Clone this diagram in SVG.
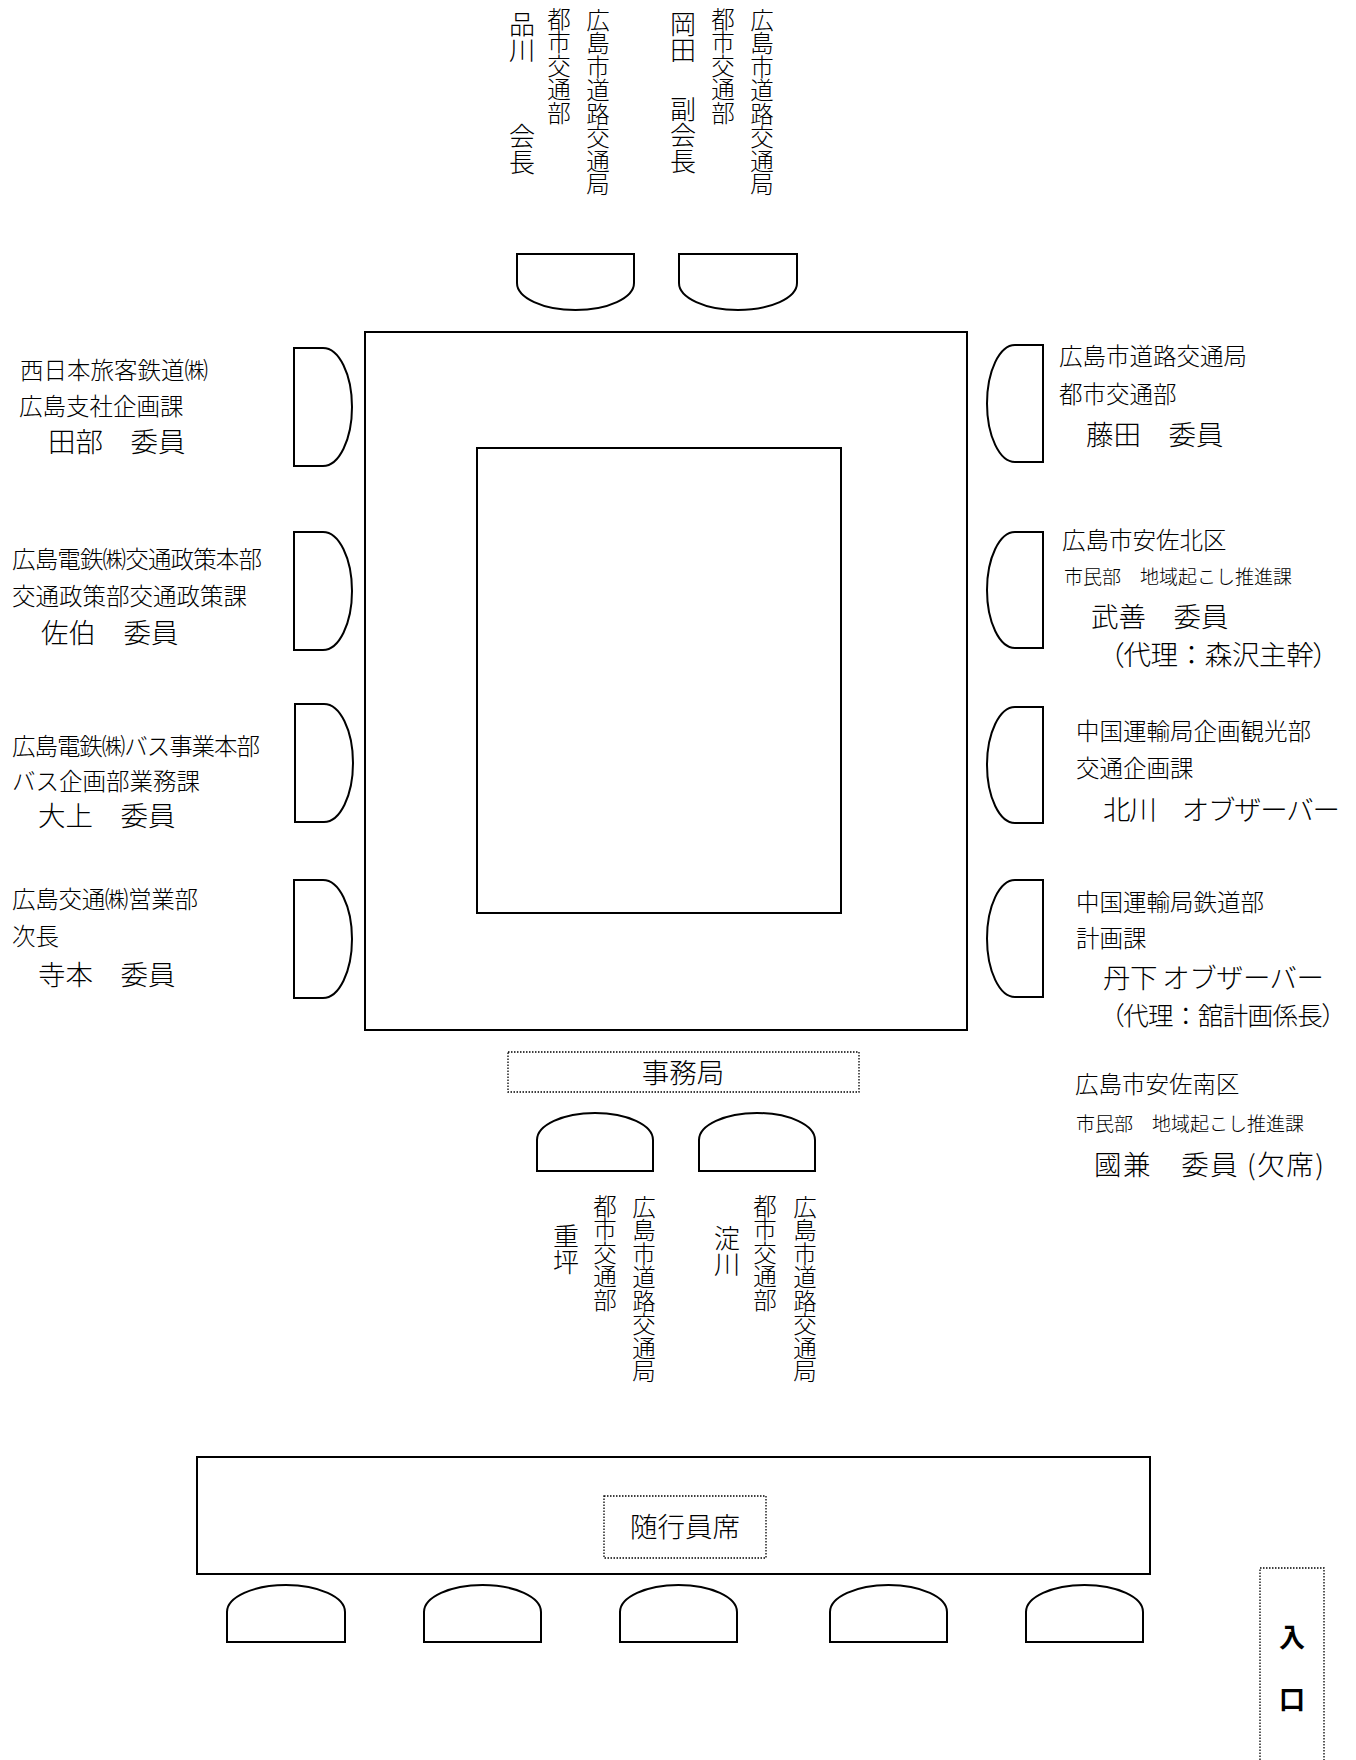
<svg xmlns="http://www.w3.org/2000/svg" width="1356" height="1760" viewBox="0 0 1356 1760">
<style>
.t{font-family:"Noto Sans CJK JP","Noto Sans CJK SC",sans-serif;fill:#000;font-weight:300}
.d{font-size:23.5px}
.s{font-size:19px}
.n{font-size:27.5px}
.nv{font-size:26px}
.pp{font-feature-settings:"palt"}
.v{writing-mode:vertical-rl}
.ln{fill:#fff;stroke:#000;stroke-width:2}
.dot{fill:none;stroke:#000;stroke-width:1.3;stroke-dasharray:1.5 1.5}
.c{text-anchor:middle}
</style>
<rect width="1356" height="1760" fill="#fff"/>
<g id="table">
<rect class="ln" x="365" y="332" width="602" height="698"/>
<rect class="ln" x="477" y="448" width="364" height="465"/>
</g>
<g id="chairs-top">
<path class="ln" d="M517,254 H634 V283 A58.5,27 0 0 1 517,283 Z"/>
<path class="ln" d="M679,254 H797 V283 A59,27 0 0 1 679,283 Z"/>
</g>
<g id="chairs-left">
<path class="ln" d="M294,348 H323 A29,59 0 0 1 323,466 H294 Z"/>
<path class="ln" d="M294,532 H323 A29,59 0 0 1 323,650 H294 Z"/>
<path class="ln" d="M295,704 H324 A29,59 0 0 1 324,822 H295 Z"/>
<path class="ln" d="M294,880 H323 A29,59 0 0 1 323,998 H294 Z"/>
</g>
<g id="chairs-right">
<path class="ln" d="M1043,345 H1015 A28,58.5 0 0 0 1015,462 H1043 Z"/>
<path class="ln" d="M1043,532 H1015 A28,58 0 0 0 1015,648 H1043 Z"/>
<path class="ln" d="M1043,707 H1015 A28,58 0 0 0 1015,823 H1043 Z"/>
<path class="ln" d="M1043,880 H1015 A28,58.5 0 0 0 1015,997 H1043 Z"/>
</g>
<g id="chairs-secretariat">
<path class="ln" d="M537,1171 V1140 A58,27 0 0 1 653,1140 V1171 Z"/>
<path class="ln" d="M699,1171 V1140 A58,27 0 0 1 815,1140 V1171 Z"/>
</g>
<g id="chairs-attendants">
<path class="ln" d="M227,1642 V1612 A59,27 0 0 1 345,1612 V1642 Z"/>
<path class="ln" d="M424,1642 V1612 A58.5,27 0 0 1 541,1612 V1642 Z"/>
<path class="ln" d="M620,1642 V1612 A58.5,27 0 0 1 737,1612 V1642 Z"/>
<path class="ln" d="M830,1642 V1612 A58.5,27 0 0 1 947,1612 V1642 Z"/>
<path class="ln" d="M1026,1642 V1612 A58.5,27 0 0 1 1143,1612 V1642 Z"/>
</g>
<g id="chair-shinagawa">
<text class="t d v" x="598" y="8">広島市道路交通局</text>
<text class="t d v" x="559" y="7">都市交通部</text>
<text class="t nv v" x="522" y="11">品川</text>
<text class="t nv v" x="522" y="123">会長</text>
</g>
<g id="chair-okada">
<text class="t d v" x="762" y="8">広島市道路交通局</text>
<text class="t d v" x="723" y="7">都市交通部</text>
<text class="t nv v" x="683" y="11">岡田</text>
<text class="t nv v" x="683" y="96">副会長</text>
</g>
<g id="seat-tabe">
<text class="t d" x="20" y="379">西日本旅客鉄道㈱</text>
<text class="t d" x="19" y="415">広島支社企画課</text>
<text class="t n" x="48" y="452">田部　委員</text>
</g>
<g id="seat-saeki">
<text class="t d" x="12" y="568" textLength="250">広島電鉄㈱交通政策本部</text>
<text class="t d" x="12" y="605">交通政策部交通政策課</text>
<text class="t n" x="41" y="643">佐伯　委員</text>
</g>
<g id="seat-oue">
<text class="t d" x="12" y="755" textLength="248">広島電鉄㈱バス事業本部</text>
<text class="t d" x="12" y="790">バス企画部業務課</text>
<text class="t n" x="38" y="826">大上　委員</text>
</g>
<g id="seat-teramoto">
<text class="t d" x="12" y="908" textLength="186">広島交通㈱営業部</text>
<text class="t d" x="12" y="945">次長</text>
<text class="t n" x="38" y="985">寺本　委員</text>
</g>
<g id="seat-fujita">
<text class="t d" x="1059" y="365">広島市道路交通局</text>
<text class="t d" x="1059" y="403">都市交通部</text>
<text class="t n" x="1086" y="445">藤田　委員</text>
</g>
<g id="seat-takeyoshi">
<text class="t d" x="1062" y="549">広島市安佐北区</text>
<text class="t s" x="1064" y="584">市民部　地域起こし推進課</text>
<text class="t n" x="1091" y="627">武善　委員</text>
<text class="t n" x="1110" y="665" textLength="217"><tspan class="pp">（</tspan>代理：森沢主幹<tspan class="pp">）</tspan></text>
</g>
<g id="seat-kitagawa">
<text class="t d" x="1076" y="740">中国運輸局企画観光部</text>
<text class="t d" x="1076" y="777">交通企画課</text>
<text class="t n" x="1103" y="820" textLength="237">北川　オブザーバー</text>
</g>
<g id="seat-tange">
<text class="t d" x="1076" y="911">中国運輸局鉄道部</text>
<text class="t d" x="1076" y="947">計画課</text>
<text class="t n" x="1103" y="988" textLength="221">丹下 オブザーバー</text>
<text class="t" x="1111" y="1025" style="font-size:25.5px" textLength="224"><tspan class="pp">（</tspan>代理：舘計画係長<tspan class="pp">）</tspan></text>
</g>
<g id="seat-kunikane">
<text class="t d" x="1075" y="1093">広島市安佐南区</text>
<text class="t s" x="1076" y="1131">市民部　地域起こし推進課</text>
<text class="t n" x="1094" y="1175" textLength="230">國兼　委員 (欠席)</text>
</g>
<g id="secretariat">
<rect class="dot" x="508" y="1052" width="351" height="40"/>
<text class="t n c" x="683" y="1083">事務局</text>
</g>
<g id="chair-shigetsubo">
<text class="t d v" x="644" y="1195">広島市道路交通局</text>
<text class="t d v" x="605" y="1194">都市交通部</text>
<text class="t nv v" x="566" y="1223">重坪</text>
</g>
<g id="chair-yodogawa">
<text class="t d v" x="805" y="1195">広島市道路交通局</text>
<text class="t d v" x="765" y="1194">都市交通部</text>
<text class="t nv v" x="727" y="1225">淀川</text>
</g>
<g id="attendants">
<rect class="ln" x="197" y="1457" width="953" height="117"/>
<rect class="dot" x="604" y="1496" width="162" height="62"/>
<text class="t n c" x="685" y="1537">随行員席</text>
</g>
<g id="entrance">
<rect class="dot" x="1260" y="1568" width="64" height="200"/>
<text class="t c" x="1292" y="1647" style="font-size:26px;font-weight:bold">入</text>
<text class="t c" x="1292" y="1709" style="font-size:26px;font-weight:bold">口</text>
</g>
<g id="connectors"/>
</svg>
